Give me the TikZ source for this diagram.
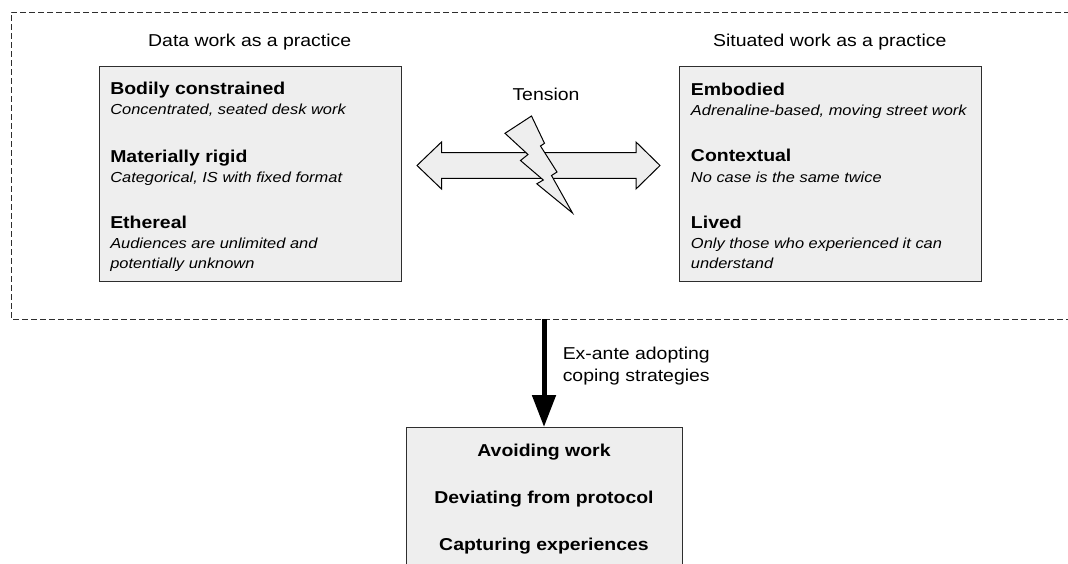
\documentclass[tikz,border=0pt]{standalone}
\usepackage{fontspec}
\setmainfont{Liberation Sans}[FakeStretch=1.13]
\usetikzlibrary{arrows.meta}
\definecolor{panel}{HTML}{EEEEEE}
\definecolor{edge}{HTML}{2E2E2E}

\begin{document}
\begin{tikzpicture}[x=0.75pt,y=-0.75pt,
  panelbox/.style={draw=edge, fill=panel, line width=0.75pt, inner sep=0pt},
  ttl/.style={anchor=base, inner sep=0pt, font=\fontsize{12.9}{15}\selectfont},
  itemhead/.style={anchor=base west, inner sep=0pt, font=\fontsize{12.9}{15}\selectfont\bfseries},
  itemsub/.style={anchor=base west, inner sep=0pt, font=\fontsize{10.9}{14}\selectfont\itshape},
  strat/.style={anchor=base, inner sep=0pt, font=\fontsize{12.9}{15}\selectfont\bfseries},
  lbl/.style={anchor=base west, inner sep=0pt, font=\fontsize{12.9}{15}\selectfont},
  frame/.style={draw=edge, line width=0.75pt, dash pattern=on 4.5pt off 2.25pt},
  shapeline/.style={draw=black, fill=panel, line width=0.75pt, line join=miter}
]
\clip (0,0) rectangle (1068,564);

% dashed frame around the two practices (open on the right)
\draw[frame] (1070,12) -- (11,12) -- (11,319) -- (1070,319);

% column titles
\node[ttl] (tL) at (249.7,46) {Data work as a practice};
\node[ttl] (tR) at (829.8,46) {Situated work as a practice};

% left panel
\node[panelbox, minimum width=226.5pt, minimum height=161.25pt] (L) at (250,173.5) {};
\node[itemhead] (l1) at (110,94) {Bodily constrained};
\node[itemsub]  (l1s) at (110,114) {Concentrated, seated desk work};
\node[itemhead] (l2) at (110,162) {Materially rigid};
\node[itemsub]  (l2s) at (110,182) {Categorical, IS with fixed format};
\node[itemhead] (l3) at (110,228) {Ethereal};
\node[itemsub]  (l3s) at (110,248) {Audiences are unlimited and};
\node[itemsub]  (l3t) at (110,268) {potentially unknown};

% right panel
\node[panelbox, minimum width=226.5pt, minimum height=161.25pt] (R) at (830,173.5) {};
\node[itemhead] (r1) at (690.7,95) {Embodied};
\node[itemsub]  (r1s) at (690.7,115) {Adrenaline-based, moving street work};
\node[itemhead] (r2) at (690.7,161) {Contextual};
\node[itemsub]  (r2s) at (690.7,182) {No case is the same twice};
\node[itemhead] (r3) at (690.7,228) {Lived};
\node[itemsub]  (r3s) at (690.7,248) {Only those who experienced it can};
\node[itemsub]  (r3t) at (690.7,268) {understand};

% tension: double arrow crossed by a lightning bolt
\node[ttl] (ten) at (546,100.7) {Tension};
\draw[shapeline] (417,165.5) -- (441.5,142) -- (441.5,152.7) -- (636,152.7)
  -- (636,142) -- (660,165.5) -- (636,189) -- (636,178.3) -- (441.5,178.3)
  -- (441.5,189) -- cycle;
\draw[shapeline] (531.5,116) -- (505,133.3) -- (528,154.5) -- (520.5,160.5)
  -- (543.3,180) -- (536.8,183.8) -- (572.5,213) -- (551.5,175.5)
  -- (557,172) -- (540.5,146) -- (544.5,143.3) -- cycle;

% coping strategies
\node[panelbox, anchor=north, minimum width=207pt, minimum height=120pt] (B) at (544,427) {};
\node[strat] (b1) at (544,456.7) {Avoiding work};
\node[strat] (b2) at (544,503.3) {Deviating from protocol};
\node[strat] (b3) at (544,550.7) {Capturing experiences};

\coordinate (src) at (544,319);
\draw[line width=3.75pt, -{Triangle[length=24pt,width=17.25pt]}] (src) -- (B.north);
\node[lbl] (e1) at (562.5,359.3) {Ex-ante adopting};
\node[lbl] (e2) at (562.5,381.5) {coping strategies};
\end{tikzpicture}
\end{document}
